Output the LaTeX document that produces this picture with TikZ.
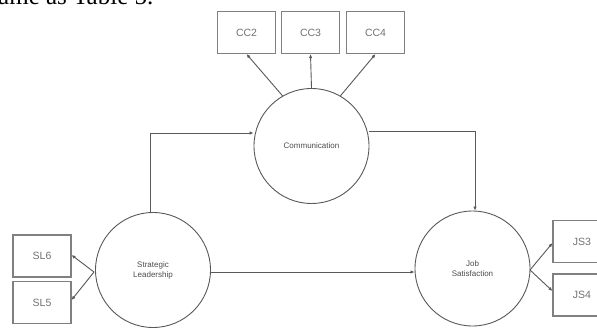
\documentclass[tikz,border=0pt]{standalone}
\usepackage{fontspec}
\setmainfont{Liberation Serif}
\newfontfamily\lblfont{Liberation Sans}
\usetikzlibrary{arrows.meta}
\tikzset{
  obsbox/.style={draw=black!50, line width=1.1pt, minimum width=58pt, minimum height=42pt, inner sep=0pt, font=\lblfont\fontsize{10.5}{12}\selectfont, text=black!55},
  latent/.style={circle, draw=black!65, line width=0.9pt, minimum size=115pt, inner sep=0pt, font=\lblfont\fontsize{8}{10}\selectfont, text=black!70, align=center},
  conn/.style={draw=black!65, line width=0.9pt, -{Latex[length=4pt,width=3.5pt]}},
  seg/.style={draw=black!65, line width=0.9pt}
}
\begin{document}
\begin{tikzpicture}[x=1pt,y=-1pt]
\clip (0,0) rectangle (597,331);
\fill[white] (0,0) rectangle (597,331);
\node[anchor=base west, inner sep=0pt, font=\fontsize{25}{28}\selectfont] (cap) at (-2,5) {ame as Table 5.};
% boxes
\node[obsbox] (cc2) at (246.5,32.5) {CC2};
\node[obsbox] (cc3) at (310.5,32.5) {CC3};
\node[obsbox] (cc4) at (375.5,32.5) {CC4};
\node[obsbox] (sl6) at (42,256) {SL6};
\node[obsbox] (sl5) at (42,302.5) {SL5};
\node[obsbox] (js3) at (582,241.5) {JS3};
\node[obsbox] (js4) at (582,295) {JS4};
% latent
\node[latent] (com) at (311.5,146) {Communication};
\node[latent] (sl) at (153,270) {Strategic\\Leadership};
\node[latent] (js) at (472.5,268.5) {Job\\Satisfaction};
% connectors
\draw[conn] (com.120) -- (cc2.south);
\draw[conn] (com.north) -- (cc3.south);
\draw[conn] (com.60) -- (cc4.south);
\coordinate (slup) at (150,133);
\draw[conn] (sl.north -| slup) -- (slup) -- (com.west |- slup);
\coordinate (comr) at (475,131);
\draw[conn] (com.east |- comr) -- (comr) -- (js.north -| comr);
\draw[conn] (sl.east |- 0,272) -- (js.west |- 0,272);
\coordinate (slj) at (94,272);
\draw[conn] (slj) -- (sl6.east |- 0,255);
\draw[conn] (slj) -- (sl5.east |- 0,300);
\coordinate (jsj) at (530,270);
\draw[conn] (jsj) -- (js3.west |- 0,243);
\draw[conn] (jsj) -- (js4.west |- 0,291);
\end{tikzpicture}
\end{document}
